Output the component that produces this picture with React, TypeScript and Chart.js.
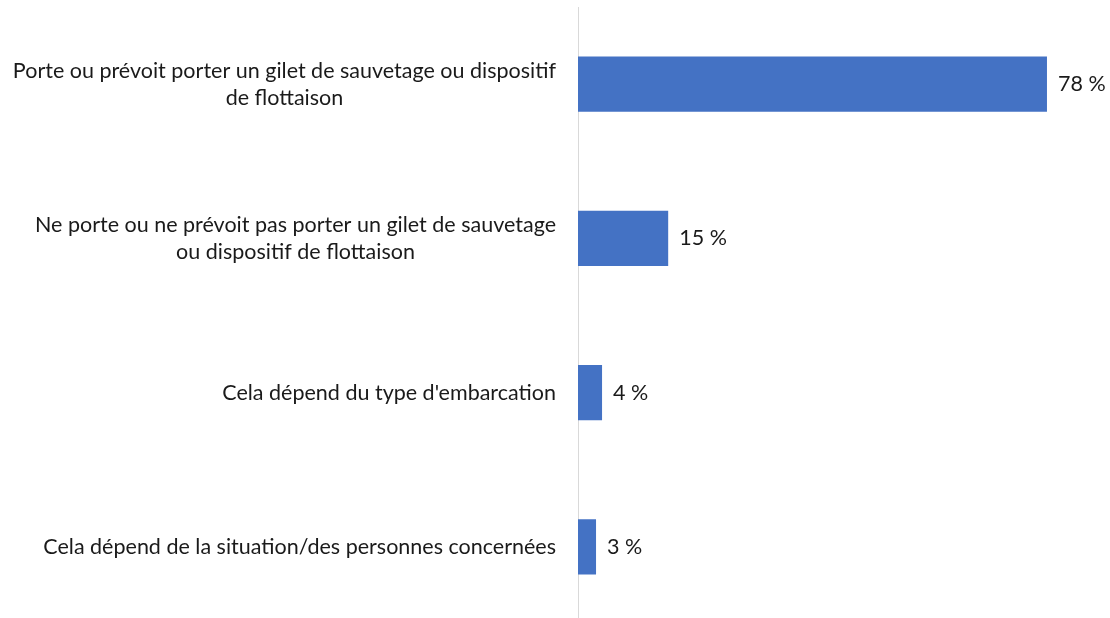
import React, { useEffect, useRef } from "react";
import { Chart, registerables } from "chart.js";

Chart.register(...registerables);

const categories: string[][] = [
  ["Porte ou prévoit porter un gilet de sauvetage ou dispositif", "de flottaison"],
  ["Ne porte ou ne prévoit pas porter un gilet de sauvetage", "ou dispositif de flottaison"],
  ["Cela dépend du type d'embarcation"],
  ["Cela dépend de la situation/des personnes concernées"],
];
const values: number[] = [78, 15, 4, 3];
const valueLabels: string[] = ["78 %", "15 %", "4 %", "3 %"];

const FONT = "21.5px Lato";
const TEXT_COLOR = "#1a1a1a";

const labelPlugin = {
  id: "customLabels",
  afterDraw(chart: any) {
    const ctx = chart.ctx;
    const yScale = chart.scales.y;
    const meta = chart.getDatasetMeta(0);
    ctx.save();
    ctx.font = FONT;
    ctx.fillStyle = TEXT_COLOR;
    ctx.textBaseline = "middle";
    const right = chart.chartArea.left - 22;
    const lineH = 27;
    categories.forEach((lines, i) => {
      const cy = yScale.getPixelForTick(i);
      const widths = lines.map((l) => ctx.measureText(l).width);
      const maxW = Math.max(...widths);
      const cx = right - maxW / 2;
      ctx.textAlign = "center";
      lines.forEach((l, j) => {
        const y = cy + (j - (lines.length - 1) / 2) * lineH;
        ctx.fillText(l, cx, y);
      });
    });
    ctx.textAlign = "left";
    meta.data.forEach((bar: any, i: number) => {
      ctx.fillText(valueLabels[i], bar.x + 11, bar.y);
    });
    ctx.restore();
  },
};

export default function App() {
  const ref = useRef<HTMLCanvasElement>(null);
  useEffect(() => {
    document.body.style.margin = "0";
    const chart = new Chart(ref.current!, {
      type: "bar",
      data: {
        labels: categories.map((c) => c.join(" ")),
        datasets: [
          {
            data: values,
            backgroundColor: "#4472C4",
            borderWidth: 0,
            categoryPercentage: 1,
            barPercentage: 55 / 154,
          },
        ],
      },
      options: {
        indexAxis: "y",
        animation: false,
        responsive: false,
        layout: { padding: { left: 578, right: 51, top: 7, bottom: 7 } },
        plugins: { legend: { display: false }, tooltip: { enabled: false } },
        scales: {
          x: { display: false, min: 0, max: 80 },
          y: {
            display: true,
            grid: { display: false },
            border: { display: true, color: "#d9d9d9", width: 1 },
            ticks: { display: false },
            afterFit: (s: any) => {
              s.width = 0;
            },
          },
        },
      },
      plugins: [labelPlugin],
    });
    return () => chart.destroy();
  }, []);
  return (
    <div style={{ width: 1110, height: 618, overflow: "hidden", position: "relative" }}>
      <canvas ref={ref} width={1110} height={631} style={{ display: "block" }} />
    </div>
  );
}
